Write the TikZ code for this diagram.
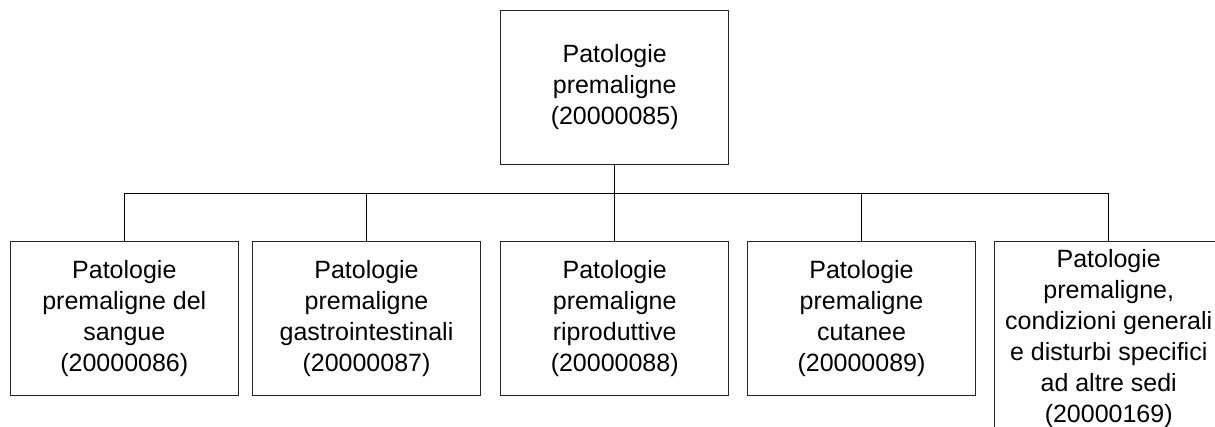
\documentclass[tikz,border=0pt]{standalone}
\usepackage{fontspec}
\setmainfont{Liberation Sans}
\begin{document}
\begin{tikzpicture}[x=1pt,y=-1pt,
  box/.style={draw=black!85,line width=1pt,minimum width=228pt,minimum height=154pt,
    inner sep=0pt,align=center,font=\fontsize{25}{31}\selectfont},
  link/.style={draw=black,line width=1pt}]
\useasboundingbox (0,0) rectangle (1215,427);
\clip (0,0) rectangle (1215,427);
\node[box] (top) at (614.7,87.5) {Patologie\\premaligne\\(20000085)};
\node[box] (c1) at (124.3,318.5) {Patologie\\premaligne del\\sangue\\(20000086)};
\node[box] (c2) at (366.5,318.5) {Patologie\\premaligne\\gastrointestinali\\(20000087)};
\node[box] (c3) at (614.7,318.5) {Patologie\\premaligne\\riproduttive\\(20000088)};
\node[box] (c4) at (861.5,318.5) {Patologie\\premaligne\\cutanee\\(20000089)};
\node[box,minimum height=195pt] (c5) at (1108.7,339) {Patologie\\premaligne,\\condizioni generali\\e disturbi specifici\\ad altre sedi\\(20000169)};
\coordinate (bus) at (614.7,193.3);
\draw[link] (top.south) -- (bus);
\foreach \c in {c1,c2,c3,c4,c5} \draw[link] (bus) -| (\c.north);
\end{tikzpicture}
\end{document}
